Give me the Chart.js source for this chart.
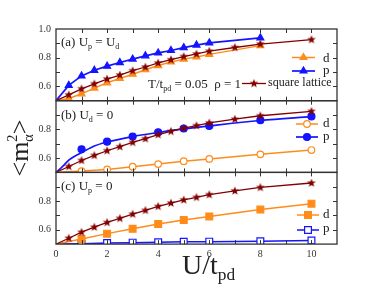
<!DOCTYPE html>
<html>
<head>
<meta charset="utf-8">
<script src="https://cdn.jsdelivr.net/npm/chart.js@4.4.1/dist/chart.umd.min.js"></script>
<style>
  body { margin: 0; background: #fff; }
  #wrap { position: relative; width: 375px; height: 288px; overflow: hidden;
          font-family: "Liberation Serif", "Times New Roman", serif; color: #222; }
  canvas { position: absolute; left: 0; top: 0; }
  .t { position: absolute; white-space: nowrap; line-height: 1; }
  .t sub { font-size: 0.62em; vertical-align: -0.35em; line-height: 0; }
  #ytitle { left: 20px; top: 148px; font-size: 26px; transform: translate(-50%, -50%) rotate(-90deg); }
  #ytitle .sp { display: inline-block; width: 0; font-size: 0.55em; vertical-align: 0.8em; }
  #ytitle .sb { font-size: 0.55em; vertical-align: -0.3em; }
</style>
</head>
<body>
<div id="wrap">
  <canvas id="ca" width="375" height="288"></canvas>
  <canvas id="cb" width="375" height="288"></canvas>
  <canvas id="cc" width="375" height="288"></canvas>

  <div class="t" style="left:61px;top:35px;font-size:13px">(a) U<sub>p</sub> = U<sub>d</sub></div>
  <div class="t" style="left:148px;top:77px;font-size:13px">T/t<sub>pd</sub> = 0.05&nbsp; ρ = 1</div>
  <div class="t" style="left:268px;top:76px;font-size:12px">square lattice</div>
  <div class="t" style="left:323px;top:51px;font-size:13px">d</div>
  <div class="t" style="left:323px;top:63px;font-size:13px">p</div>

  <div class="t" style="left:61px;top:108px;font-size:13px">(b) U<sub>d</sub> = 0</div>
  <div class="t" style="left:323px;top:116px;font-size:13px">d</div>
  <div class="t" style="left:323px;top:129px;font-size:13px">p</div>

  <div class="t" style="left:61px;top:179px;font-size:13px">(c) U<sub>p</sub> = 0</div>
  <div class="t" style="left:323px;top:207px;font-size:13px">d</div>
  <div class="t" style="left:323px;top:221px;font-size:13px">p</div>

  <div class="t" id="ytitle">&lt;m<span class="sp">2</span><span class="sb">α</span>&gt;</div>
  <div class="t" style="left:182px;top:251px;font-size:28px">U/t<sub>pd</sub></div>
</div>
<script>
// square lattice reference, same curve in all three panels
const xLat = [0, 0.5, 1, 1.5, 2, 2.5, 3, 3.5, 4, 4.5, 5, 5.5, 6, 7, 8, 10];
const mLat = [0.5, 0.541, 0.583, 0.618, 0.651, 0.679, 0.709, 0.735, 0.763, 0.786, 0.808, 0.826, 0.845, 0.871, 0.895, 0.926];

// (a) Up = Ud
const xA = [0, 0.5, 1, 1.5, 2, 2.5, 3, 3.5, 4, 4.5, 5, 5.5, 6, 8];
const mA_d = [0.5, 0.515, 0.548, 0.588, 0.625, 0.655, 0.685, 0.716, 0.745, 0.77, 0.79, 0.805, 0.823, 0.884];
const mA_p = [0.5, 0.607, 0.673, 0.712, 0.741, 0.766, 0.79, 0.813, 0.833, 0.85, 0.87, 0.888, 0.903, 0.938];

// (b) Ud = 0
const xB = [0, 1, 2, 3, 4, 5, 6, 8, 10];
const mB_d = [0.5, 0.509, 0.521, 0.54, 0.558, 0.578, 0.594, 0.626, 0.656];
const xB_pDots = [1, 2, 3, 4, 5, 6, 8, 10];
const mB_pDots = [0.661, 0.714, 0.75, 0.78, 0.806, 0.824, 0.864, 0.89];
const xB_pFit = [0, 0.25, 0.5, 0.75, 1, 1.5, 2, 3, 4, 5, 6, 8, 10];
const mB_pFit = [0.5, 0.54, 0.586, 0.615, 0.638, 0.684, 0.712, 0.75, 0.778, 0.803, 0.824, 0.862, 0.889];

// (c) Up = 0
const xC = [0, 1, 2, 3, 4, 5, 6, 8, 10];
const mC_d = [0.5, 0.535, 0.573, 0.607, 0.64, 0.668, 0.693, 0.741, 0.782];
const mC_p = [0.5, 0.503, 0.507, 0.51, 0.513, 0.516, 0.517, 0.52, 0.525];

const xTickLabels = ['0', '2', '4', '6', '8', '10'];
const yTickLabels = ['0.6', '0.8', '1.0'];

const ORANGE = '#ff8c1a';
const BLUE = '#1414ff';
const MAROON = '#820000';

Chart.defaults.font.family = '"Liberation Serif", "Times New Roman", serif';
Chart.defaults.font.size = 10;
Chart.defaults.color = '#333';

function starImage(color, r) {
  const c = document.createElement('canvas');
  const s = Math.ceil(r * 2 + 2);
  c.width = c.height = s;
  const g = c.getContext('2d');
  g.fillStyle = color;
  g.beginPath();
  for (let i = 0; i < 10; i++) {
    const a = -Math.PI / 2 + i * Math.PI / 5;
    const rr = i % 2 ? r * 0.42 : r;
    g.lineTo(s / 2 + rr * Math.cos(a), s / 2 + rr * Math.sin(a));
  }
  g.closePath();
  g.fill();
  return c;
}
const star = starImage(MAROON, 4.6);

function series(xs, ys, color, style, r, fill, extra) {
  return Object.assign({
    data: xs.map((x, i) => ({ x, y: ys[i] })),
    borderColor: color,
    borderWidth: 1.5,
    pointStyle: style,
    markR: r,
    pointRadius: c => (c.raw && c.raw.x === 0 ? 0 : r),
    pointBackgroundColor: fill,
    pointBorderColor: color,
    pointBorderWidth: 1.2,
    tension: 0,
    fill: false
  }, extra || {});
}

// frame, inward ticks and legend samples
const framePlugin = {
  id: 'frame',
  afterDraw(chart, args, opts) {
    const { ctx, chartArea: a } = chart;
    const x = chart.scales.x, y = chart.scales.y;
    ctx.save();
    ctx.strokeStyle = '#333';
    ctx.lineWidth = 1;
    ctx.beginPath();
    for (let v = 1; v < 11; v++) {
      const px = Math.round(x.getPixelForValue(v)) + 0.5;
      ctx.moveTo(px, a.top); ctx.lineTo(px, a.top + 4);
      ctx.moveTo(px, a.bottom); ctx.lineTo(px, a.bottom - 4);
    }
    for (let k = 6; k < 10; k++) {
      const py = Math.round(y.getPixelForValue(k / 10)) + 0.5;
      ctx.moveTo(a.left, py); ctx.lineTo(a.left + 4, py);
      ctx.moveTo(a.right, py); ctx.lineTo(a.right - 4, py);
    }
    ctx.stroke();
    ctx.lineWidth = 1.3;
    ctx.strokeRect(a.left, a.top, a.right - a.left, a.bottom - a.top);

    (opts.legend || []).forEach(e => {
      const ds = chart.data.datasets[e.ds];
      ctx.strokeStyle = ds.borderColor;
      ctx.lineWidth = ds.borderWidth;
      ctx.beginPath();
      ctx.moveTo(e.x1, e.y); ctx.lineTo(e.x2, e.y);
      ctx.stroke();
      ctx.fillStyle = ds.pointBackgroundColor;
      ctx.strokeStyle = ds.pointBorderColor;
      ctx.lineWidth = ds.pointBorderWidth;
      Chart.helpers.drawPoint(ctx, {
        pointStyle: ds.pointStyle, radius: ds.markR, borderWidth: ds.pointBorderWidth, rotation: 0
      }, (e.x1 + e.x2) / 2, e.y);
    });
    ctx.restore();
  }
};

function makeChart(id, datasets, p) {
  return new Chart(document.getElementById(id), {
    type: 'line',
    data: { datasets },
    options: {
      responsive: false,
      animation: false,
      events: [],
      layout: { padding: { left: 0, right: 38, top: p.top, bottom: p.bottom } },
      plugins: {
        legend: { display: false },
        tooltip: { enabled: false },
        frame: { legend: p.legend }
      },
      scales: {
        x: {
          type: 'linear', min: 0, max: 11, display: p.showX,
          grid: { display: false, drawTicks: false }, border: { display: false },
          ticks: {
            stepSize: 1, padding: 4, maxRotation: 0, autoSkip: false,
            callback: v => (xTickLabels.includes(String(v)) ? String(v) : '')
          },
          afterFit: s => { s.height = p.showX ? 20 : 0; }
        },
        y: {
          min: 0.5, max: 1.0,
          grid: { display: false, drawTicks: false }, border: { display: false },
          ticks: {
            stepSize: 0.1, padding: 5, autoSkip: false,
            callback: v => {
              const t = (Math.round(v * 10) / 10).toFixed(1);
              if (t === '1.0' && !p.showTop) return '';
              return yTickLabels.includes(t) ? t : '';
            }
          },
          afterFit: s => { s.width = 56; }
        }
      }
    },
    plugins: [framePlugin]
  });
}

const TOP_A = 29, BOT_A = 100.7, BOT_B = 172.4, BOT_C = 244.1;

makeChart('ca', [
  series(xLat, mLat, MAROON, star, 4.6, MAROON, { borderWidth: 1.3 }),
  series(xA, mA_d, ORANGE, 'triangle', 4, ORANGE),
  series(xA, mA_p, BLUE, 'triangle', 4, BLUE, { borderWidth: 1.7 })
], {
  top: TOP_A, bottom: 288 - BOT_A, showX: false, showTop: true,
  legend: [
    { ds: 1, x1: 292, x2: 315, y: 57.5 },
    { ds: 2, x1: 292, x2: 315, y: 71 },
    { ds: 0, x1: 242, x2: 266, y: 83.5 }
  ]
});

makeChart('cb', [
  series(xLat, mLat, MAROON, star, 4.6, MAROON, { borderWidth: 1.3 }),
  series(xB, mB_d, ORANGE, 'circle', 3.3, '#fff'),
  series(xB_pFit, mB_pFit, BLUE, 'circle', 0, BLUE, { borderWidth: 1.7, cubicInterpolationMode: 'monotone' }),
  series(xB_pDots, mB_pDots, BLUE, 'circle', 3.5, BLUE, { showLine: false, borderWidth: 1.7 })
], {
  top: BOT_A, bottom: 288 - BOT_B, showX: false, showTop: false,
  legend: [
    { ds: 1, x1: 296, x2: 318, y: 124 },
    { ds: 3, x1: 296, x2: 318, y: 137 }
  ]
});

makeChart('cc', [
  series(xLat, mLat, MAROON, star, 4.6, MAROON, { borderWidth: 1.3 }),
  series(xC, mC_d, ORANGE, 'rect', 4.8, ORANGE),
  series(xC, mC_p, BLUE, 'rect', 4.8, '#fff')
], {
  top: BOT_B, bottom: 288 - BOT_C - 20, showX: true, showTop: false,
  legend: [
    { ds: 1, x1: 297, x2: 319, y: 215 },
    { ds: 2, x1: 297, x2: 319, y: 230 }
  ]
});
</script>
</body>
</html>
